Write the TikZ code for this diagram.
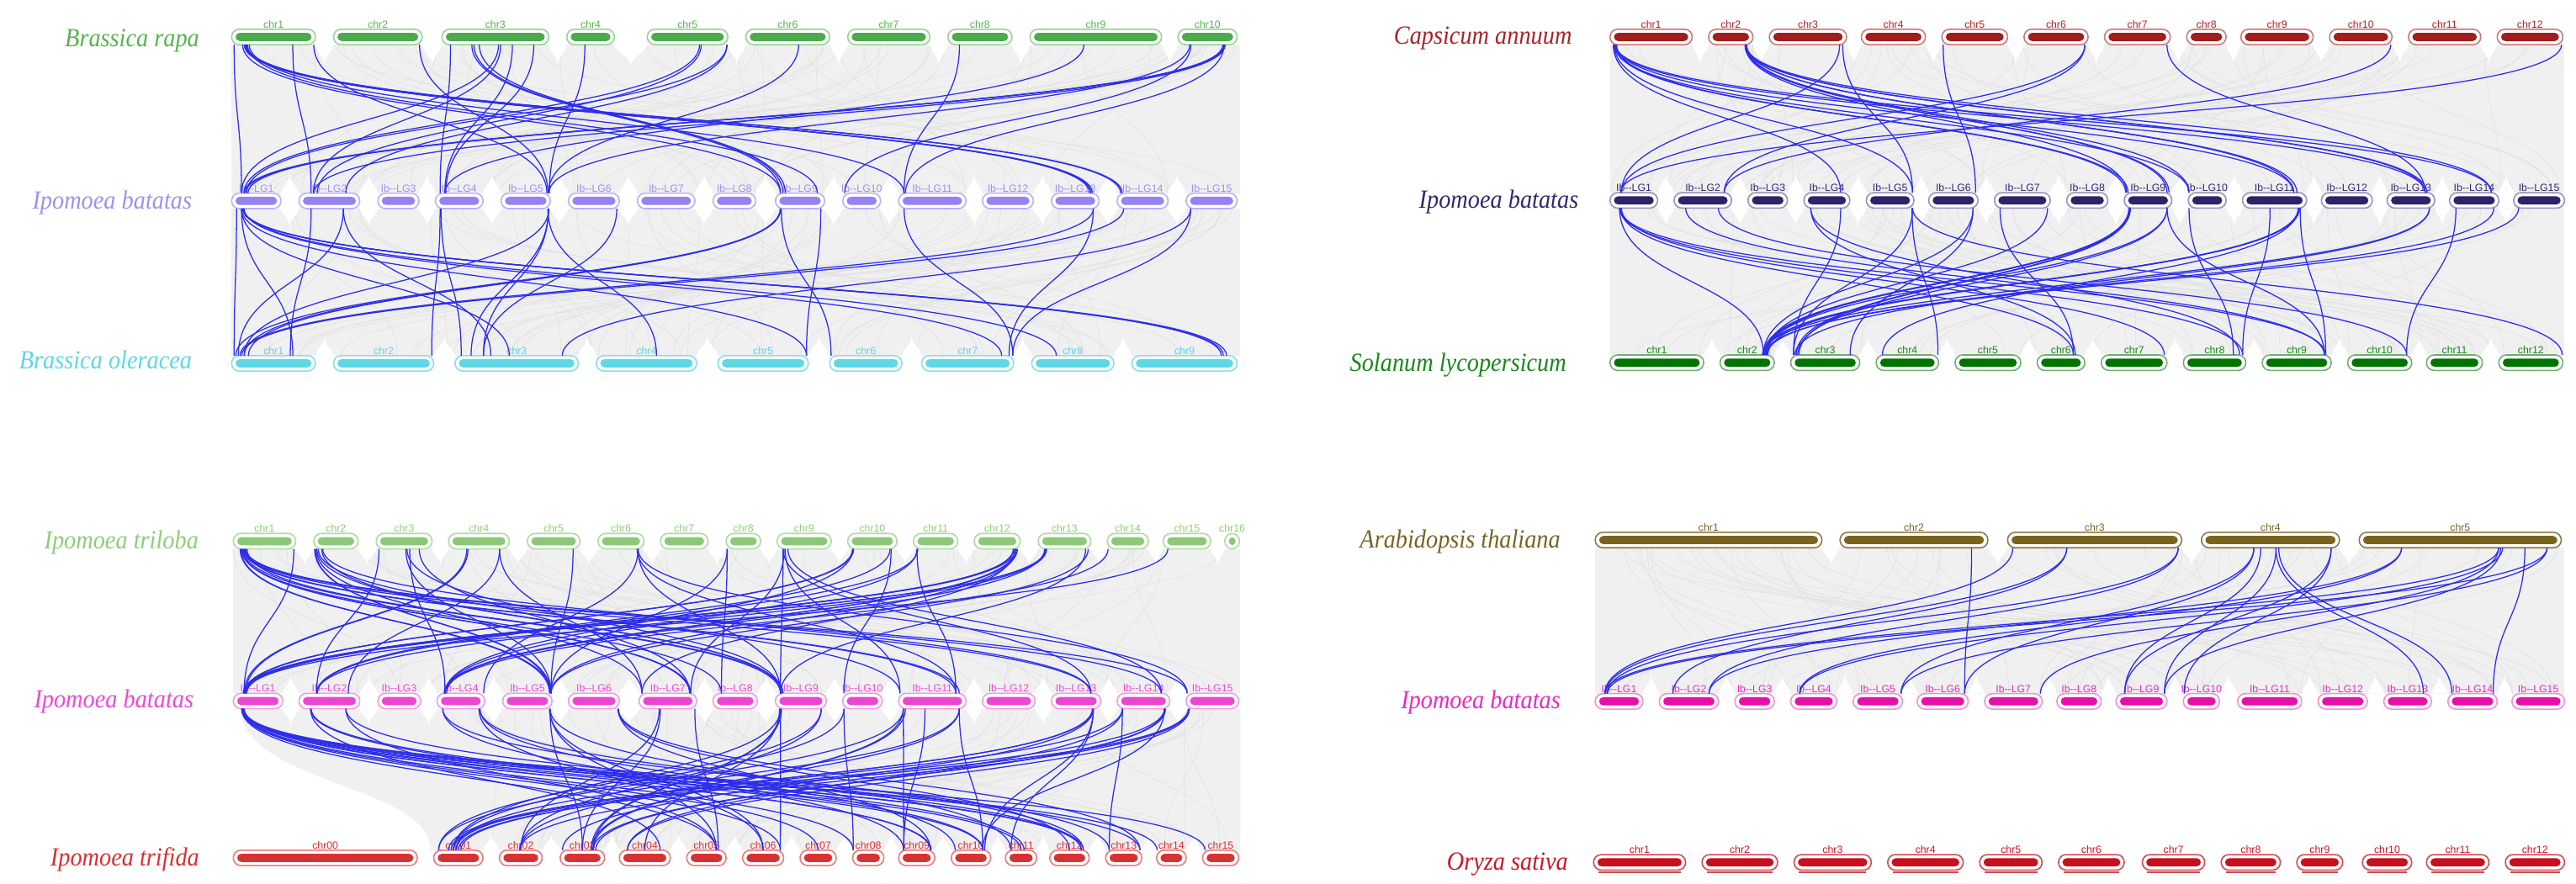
\documentclass[tikz,border=0pt]{standalone}
\usepackage{graphicx}
\usepackage{fontspec}
\newfontfamily\spfont{Liberation Serif}
\newfontfamily\lbfont{Liberation Sans}
\usetikzlibrary{calc}
\pgfdeclarelayer{bg}
\pgfsetlayers{bg,main}
\definecolor{blueL}{RGB}{45,45,235}
\definecolor{bandc}{RGB}{240,240,240}
\definecolor{texc}{RGB}{226,226,226}
% panel A
\definecolor{aro}{RGB}{150,210,150}\definecolor{arf}{RGB}{75,170,75}\definecolor{arl}{RGB}{85,180,75}
\definecolor{amo}{RGB}{185,175,250}\definecolor{amf}{RGB}{150,130,240}\definecolor{aml}{RGB}{155,145,245}
\definecolor{aoo}{RGB}{130,225,235}\definecolor{aof}{RGB}{95,215,228}\definecolor{aol}{RGB}{90,215,230}
% panel B
\definecolor{bco}{RGB}{200,120,120}\definecolor{bcf}{RGB}{160,30,30}\definecolor{bcl}{RGB}{170,35,40}
\definecolor{bmo}{RGB}{150,145,185}\definecolor{bmf}{RGB}{45,35,105}\definecolor{bml}{RGB}{50,40,110}
\definecolor{bso}{RGB}{110,175,110}\definecolor{bsf}{RGB}{0,115,0}\definecolor{bsl}{RGB}{25,135,25}
% panel C
\definecolor{cto}{RGB}{170,220,160}\definecolor{ctf}{RGB}{140,200,120}\definecolor{ctl}{RGB}{140,205,120}
\definecolor{cmo}{RGB}{245,150,230}\definecolor{cmf}{RGB}{235,70,210}\definecolor{cml}{RGB}{240,70,215}
\definecolor{cfo}{RGB}{235,120,120}\definecolor{cff}{RGB}{215,50,50}\definecolor{cfl}{RGB}{220,45,50}
% panel D
\definecolor{dao}{RGB}{140,120,70}\definecolor{daf}{RGB}{120,100,30}\definecolor{dal}{RGB}{120,100,35}
\definecolor{dmo}{RGB}{245,140,215}\definecolor{dmf}{RGB}{230,15,170}\definecolor{dml}{RGB}{235,40,195}
\definecolor{dzo}{RGB}{215,70,80}\definecolor{dzf}{RGB}{200,15,30}\definecolor{dzl}{RGB}{205,20,40}

\tikzset{
 chrom/.style 2 args={draw=#1, fill=white, line width=0.8pt, rounded corners=4.6pt,
   minimum height=9.4pt, inner sep=0pt, outer sep=0pt,
   path picture={\fill[#2, rounded corners=2.5pt]
     ([shift={(2.4pt,2.2pt)}]path picture bounding box.south west) rectangle
     ([shift={(-2.4pt,-2.2pt)}]path picture bounding box.north east);}},
 clab/.style={font=\lbfont\fontsize{6.3}{6.3}\selectfont, inner sep=0.4pt},
 sp/.style={font=\spfont\itshape\fontsize{14.5}{16}\selectfont, anchor=base east, inner sep=0pt},
 blk/.style={draw=blueL, line width=0.65pt},
 bandg/.style={fill=bandc},
 texg/.style={draw=texc, line width=0.35pt},
}
\newcommand\spt[1]{\scalebox{1}[1.1]{#1}}

\newcommand\chrrow[6]{%
 \foreach \xa/\xb/\nm [count=\i from #5] in {#6} {
  \node[#3, minimum width={(\xb-\xa)*1pt}, label={[clab, text=#4]above:\nm}] (#1\i) at ({(\xa+\xb)/2},#2) {};
 }}
\newcommand\synlink[4]{%
 \path ($(#1.south west)!#2!(#1.south east)$) coordinate (la)
       ($(#3.north west)!#4!(#3.north east)$) coordinate (lb);
 \path ($(la)!.5!(lb)$) coordinate (lm);
 \draw[blk] (la) .. controls (la |- lm) and (lb |- lm) .. (lb);}
\newcommand\links[1]{\foreach \p/\q/\r/\s in {#1} {\synlink{\p}{\q}{\r}{\s}}}
\newcommand\gapnotch[4]{%
 \path (#1.#3 east) coordinate (na) (#2.#3 west) coordinate (nb);
 \path ($(na)!.5!(nb)$) coordinate (nm);
 \fill[white] (na) .. controls ($(na)+(1,0.4*#4)$) and ($(nm)+(0,0.55*#4)$) .. ($(nm)+(0,#4)$)
   .. controls ($(nm)+(0,0.55*#4)$) and ($(nb)+(-1,0.4*#4)$) .. (nb) -- cycle;}
\newcommand\notchrow[5]{% prefix, last gap index, side, depth, first
 \foreach \i in {#5,...,#2} {\pgfmathtruncatemacro\j{\i+1}\gapnotch{#1\i}{#1\j}{#3}{#4}}}
\newcommand\bandtex[5]{%
 \foreach \k in {1,...,#5}{
  \pgfmathsetmacro\ta{#1+rnd*(#2-#1)}
  \pgfmathsetmacro\tb{#1+rnd*(#2-#1)}
  \draw[texg] (\ta,#3) .. controls (\ta,{(#3+#4)/2}) and (\tb,{(#3+#4)/2}) .. (\tb,#4);
 }}

\begin{document}
\begin{tikzpicture}[x=1pt,y=-1pt]
\useasboundingbox (0,0) rectangle (1568,538);
\pgfmathsetseed{12345}

% ---------------- Panel A ----------------
\chrrow{ar}{22.5}{chrom={aro}{arf}}{arl}{1}{141/192/chr1,203/257/chr2,269/334/chr3,345/374/chr4,394/443/chr5,454/505/chr6,516/566/chr7,577/616/chr8,627/707/chr9,717/753/chr10}
\chrrow{am}{122.3}{chrom={amo}{amf}}{aml}{1}{141/171/Ib--LG1,182/219/Ib--LG2,230/255/Ib--LG3,265/294/Ib--LG4,305/335/Ib--LG5,346/377/Ib--LG6,388/423/Ib--LG7,434/460/Ib--LG8,472/502/Ib--LG9,513/536/Ib--LG10,547/588/Ib--LG11,598/629/Ib--LG12,640/669/Ib--LG13,680/711/Ib--LG14,722/753/Ib--LG15}
\chrrow{ao}{221.2}{chrom={aoo}{aof}}{aol}{1}{141/192/chr1,203/264/chr2,277/352/chr3,363/424/chr4,437/492/chr5,505/549/chr6,561/617/chr7,628/678/chr8,689/753/chr9}
\node[sp, text=arl] (spA1) at (121.5,28.6) {\spt{Brassica rapa}};
\node[sp, text=aml] (spA2) at (117,127.2) {\spt{Ipomoea batatas}};
\node[sp, text=aol] (spA3) at (117,224.6) {\spt{Brassica oleracea}};

% ---------------- Panel B ----------------
\chrrow{bc}{22.5}{chrom={bco}{bcf}}{bcl}{1}{980/1030/chr1,1040/1067/chr2,1077/1124/chr3,1133/1172/chr4,1182/1222/chr5,1232/1271/chr6,1281/1321/chr7,1331/1355/chr8,1364/1408/chr9,1418/1456/chr10,1466/1510/chr11,1520/1560/chr12}
\chrrow{bm}{122}{chrom={bmo}{bmf}}{bml}{1}{980/1009/Ib--LG1,1019/1054/Ib--LG2,1064/1088/Ib--LG3,1098/1126/Ib--LG4,1136/1165/Ib--LG5,1174/1204/Ib--LG6,1214/1248/Ib--LG7,1258/1283/Ib--LG8,1293/1322/Ib--LG9,1332/1355/Ib--LG10,1365/1404/Ib--LG11,1413/1444/Ib--LG12,1453/1482/Ib--LG13,1491/1521/Ib--LG14,1530/1561/Ib--LG15}
\chrrow{bs}{220.8}{chrom={bso}{bsf}}{bsl}{1}{980/1037/chr1,1047/1080/chr2,1090/1132/chr3,1142/1180/chr4,1190/1230/chr5,1240/1269/chr6,1279/1319/chr7,1329/1367/chr8,1377/1419/chr9,1429/1468/chr10,1477/1511/chr11,1521/1560/chr12}
\node[sp, text=bcl] (spB1) at (957,26.8) {\spt{Capsicum annuum}};
\node[sp, text=bml] (spB2) at (961,126.6) {\spt{Ipomoea batatas}};
\node[sp, text=bsl] (spB3) at (953.6,226) {\spt{Solanum lycopersicum}};

% ---------------- Panel C ----------------
\chrrow{ct}{329.5}{chrom={cto}{ctf}}{ctl}{1}{142/180/chr1,191/218/chr2,229/263/chr3,273/310/chr4,321/353/chr5,364/392/chr6,402/431/chr7,442/463/chr8,473/506/chr9,516/546/chr10,556/583/chr11,593/621/chr12,632/664/chr13,674/699/chr14,708/737/chr15,745.5/754.5/chr16}
\chrrow{cm}{426.8}{chrom={cmo}{cmf}}{cml}{1}{142/172/Ib--LG1,182/219/Ib--LG2,230/256/Ib--LG3,266/295/Ib--LG4,306/336/Ib--LG5,346/377/Ib--LG6,389/424/Ib--LG7,434/461/Ib--LG8,472/503/Ib--LG9,513/537/Ib--LG10,547/588/Ib--LG11,598/630/Ib--LG12,640/670/Ib--LG13,680/712/Ib--LG14,722/754/Ib--LG15}
\chrrow{cf}{522.3}{chrom={cfo}{cff}}{cfl}{0}{142/254/chr00,264/294/chr01,304/330/chr02,341/368/chr03,377/408/chr04,418/442/chr05,452/477/chr06,487/509/chr07,519/538/chr08,547/569/chr09,579/603/chr10,612/631/chr11,639/663/chr12,673/695/chr13,704/722/chr14,732/754/chr15}
\node[sp, text=ctl] (spC1) at (121,334.2) {\spt{Ipomoea triloba}};
\node[sp, text=cml] (spC2) at (118,430.7) {\spt{Ipomoea batatas}};
\node[sp, text=cfl] (spC3) at (121.5,527.2) {\spt{Ipomoea trifida}};

% ---------------- Panel D ----------------
\chrrow{da}{328.8}{chrom={dao}{daf}}{dal}{1}{971/1109/chr1,1120/1210/chr2,1222/1328/chr3,1340/1424/chr4,1436/1559/chr5}
\chrrow{dm}{427}{chrom={dmo}{dmf}}{dml}{1}{971/1000/Ib--LG1,1010/1046/Ib--LG2,1056/1080/Ib--LG3,1090/1118/Ib--LG4,1128/1158/Ib--LG5,1167/1198/Ib--LG6,1208/1243/Ib--LG7,1252/1279/Ib--LG8,1288/1319/Ib--LG9,1329/1351/Ib--LG10,1362/1401/Ib--LG11,1411/1441/Ib--LG12,1451/1480/Ib--LG13,1490/1520/Ib--LG14,1529/1561/Ib--LG15}
\chrrow{dz}{525}{chrom={dzo}{dzf}}{dzl}{1}{970/1026/chr1,1036/1082/chr2,1092/1139/chr3,1149/1195/chr4,1205/1243/chr5,1253/1293/chr6,1304/1342/chr7,1352/1388/chr8,1398/1426/chr9,1438/1468/chr10,1477/1515/chr11,1525/1561/chr12}
\foreach \i in {1,...,12}{\draw[dzo, line width=0.7pt] ([xshift=3pt,yshift=-1.4pt]dz\i.south west) -- ([xshift=-3pt,yshift=-1.4pt]dz\i.south east);}
\node[sp, text=dal] (spD1) at (950,333.4) {\spt{Arabidopsis thaliana}};
\node[sp, text=dml] (spD2) at (950,431.6) {\spt{Ipomoea batatas}};
\node[sp, text=dzl] (spD3) at (954.6,529.8) {\spt{Oryza sativa}};

% ---------------- grey background bands ----------------
\begin{pgfonlayer}{bg}
 \fill[bandg] (141,27.3) rectangle (755,117.6);
 \fill[bandg] (141,127) rectangle (755,216.5);
 \fill[bandg] (980,27.3) rectangle (1561,117.3);
 \fill[bandg] (980,126.7) rectangle (1561,216);
 \fill[bandg] (142,334.3) rectangle (755,422);
 \fill[bandg] (146,431.5) -- (755,431.5) -- (755,517.5) -- (262,517.5) .. controls (262,478) and (150,478) .. (146,431.5) -- cycle;
 \fill[bandg] (971,333.6) rectangle (1561,422.3);
 \bandtex{141}{755}{27.3}{117.6}{60}
 \bandtex{141}{755}{127}{216.5}{60}
 \bandtex{980}{1561}{27.3}{117.3}{60}
 \bandtex{980}{1561}{126.7}{216}{60}
 \bandtex{142}{755}{334.3}{422}{60}
 \bandtex{262}{755}{431.5}{517.5}{50}
 \bandtex{971}{1561}{333.6}{422.3}{60}
 \notchrow{ar}{9}{south}{13}{1}
 \notchrow{am}{14}{north}{-12}{1}
 \notchrow{am}{14}{south}{11}{1}
 \notchrow{ao}{8}{north}{-12}{1}
 \notchrow{bc}{11}{south}{12}{1}
 \notchrow{bm}{14}{north}{-12}{1}
 \notchrow{bm}{14}{south}{11}{1}
 \notchrow{bs}{11}{north}{-11}{1}
 \notchrow{ct}{15}{south}{10}{1}
 \notchrow{cm}{14}{north}{-11}{1}
 \notchrow{cm}{14}{south}{10}{1}
 \notchrow{cf}{14}{north}{-10}{1}
 \notchrow{da}{4}{south}{11}{1}
 \notchrow{dm}{14}{north}{-12}{1}
\end{pgfonlayer}

% ---------------- blue syntenic links ----------------
\links{ar1/.03/am1/.2, ar1/.73/am2/.2, ar1/.15/am13/.8, ar1/.17/am14/.07, ar1/.19/am9/.85, ar1/.21/am11/.08, ar1/.13/am9/.1, ar1/.98/am5/.93, ar2/.97/am5/.95, ar3/.08/am4/.1, ar3/.28/am9/.1, ar3/.35/am9/.15, ar3/.53/am1/.2, ar3/.55/am2/.24, ar3/.66/am4/.2, ar3/.86/am4/.22, ar4/.38/am5/.98, ar5/.65/am1/.25, ar5/.67/am2/.3, ar5/.99/am1/.3, ar5/.99/am2/.77, ar6/.63/am5/.96, ar8/.18/am11/.08, ar9/.41/am4/.2, ar10/.2/am5/.97, ar10/.22/am10/.05, ar10/.78/am1/.25, ar10/.8/am2/.24, ar10/.76/am1/.28, ar10/.78/am11/.1, ar1/.16/am13/.83, ar1/.18/am14/.1, ar1/.17/am13/.86, ar10/.79/am1/.33, ar3/.3/am9/.2}
\links{am1/.1/ao1/.03, am1/.2/ao1/.73, am2/.2/ao1/.7, am1/.2/ao3/.44, am1/.22/ao9/.87, am1/.24/ao9/.85, am1/.25/ao7/.87, am1/.2/ao5/.98, am2/.73/ao3/.29, am4/.1/ao2/.98, am4/.12/ao3/.05, am5/.96/ao3/.13, am5/.96/ao3/.23, am5/.95/ao4/.6, am5/.97/ao1/.15, am6/.95/ao3/.23, am9/.1/ao1/.05, am9/.1/ao1/.15, am9/.12/ao6/.02, am9/.92/ao5/.98, am11/.08/ao7/.99, am13/.88/ao7/.95, am13/.88/ao1/.1, am14/.13/ao1/.12, am15/.09/ao7/.99, am15/.09/ao3/.87, am2/.73/ao1/.08, am1/.23/ao9/.9, am1/.25/ao8/.3, am9/.11/ao1/.2}
\links{bc1/.04/bm4/.8, bc1/.05/bm5/.97, bc1/.06/bm9/.03, bc1/.07/bm11/.8, bc1/.05/bm10/.02, bc1/.06/bm13/.8, bc1/.07/bm14/.85, bc2/.83/bm9/.94, bc2/.85/bm11/.8, bc2/.83/bm13/.8, bc2/.84/bm14/.85, bc2/.82/bm9/.05, bc2/.84/bm10/.02, bc2/.86/bm9/.9, bc3/.91/bm1/.24, bc3/.95/bm5/.97, bc5/.02/bm6/.95, bc6/.95/bm1/.24, bc6/.95/bm2/.87, bc7/.95/bm13/.8, bc10/.98/bm2/.87, bc12/.98/bm1/.22, bc2/.85/bm11/.85, bc1/.08/bm9/.08, bc2/.85/bm13/.84}
\links{bm1/.2/bs2/.8, bm1/.22/bs6/.76, bm1/.24/bs7/.96, bm1/.2/bs8/.95, bm1/.21/bs9/.92, bm2/.2/bs9/.9, bm2/.77/bs10/.92, bm4/.15/bs6/.8, bm4/.8/bs3/.04, bm4/.15/bs8/.9, bm5/.97/bs3/.04, bm5/.97/bs12/.99, bm5/.96/bs4/.99, bm6/.9/bs3/.86, bm7/.1/bs6/.76, bm7/.95/bs2/.85, bm9/.1/bs2/.8, bm9/.12/bs2/.82, bm9/.9/bs2/.84, bm9/.9/bs3/.1, bm9/.1/bs3/.08, bm10/.02/bs8/.8, bm11/.43/bs8/.95, bm11/.87/bs2/.8, bm11/.87/bs4/.1, bm13/.89/bs2/.78, bm13/.89/bs3/.06, bm14/.13/bs10/.92, bm14/.9/bs2/.86, bm15/.1/bs2/.83, bm6/.9/bs2/.8, bm11/.9/bs9/.92, bm9/.9/bs9/.9, bm9/.12/bs2/.84, bm11/.88/bs2/.82, bm9/.11/bs2/.86, bm9/.13/bs3/.12, bm11/.89/bs2/.88}
\links{ct1/.12/cm5/.98, ct1/.14/cm7/.88, ct1/.15/cm9/.1, ct1/.16/cm11/.85, ct1/.17/cm13/.8, ct1/.18/cm14/.84, ct1/.2/cm15/.02, ct1/.13/cm8/.19, ct1/.19/cm11/.9, ct1/.97/cm1/.22, ct2/.02/cm5/.98, ct2/.05/cm7/.05, ct2/.18/cm9/.1, ct2/.1/cm11/.02, ct2/.2/cm13/.8, ct3/.05/cm2/.29, ct3/.53/cm5/.98, ct3/.77/cm7/.88, ct3/.6/cm4/.17, ct4/.3/cm1/.22, ct4/.84/cm2/.81, ct5/.87/cm5/.98, ct6/.87/cm4/.98, ct6/.87/cm9/.1, ct8/.03/cm5/.98, ct8/.03/cm8/.19, ct9/.11/cm9/.1, ct9/.15/cm11/.02, ct9/.2/cm14/.84, ct10/.1/cm1/.22, ct10/.1/cm4/.17, ct10/.86/cm2/.29, ct10/.88/cm10/.03, ct11/.08/cm4/.17, ct11/.08/cm11/.85, ct12/.85/cm1/.22, ct12/.9/cm1/.25, ct12/.94/cm4/.17, ct12/.92/cm5/.98, ct12/.88/cm7/.05, ct13/.14/cm1/.24, ct13/.16/cm2/.29, ct13/.95/cm5/.98, ct13/.9/cm9/.1, ct14/.02/cm4/.17, ct15/.1/cm1/.23, ct9/.11/cm13/.8, ct6/.87/cm15/.02, ct4/.84/cm7/.05, ct1/.22/cm9/.15, ct1/.11/cm5/.95, ct1/.14/cm7/.9, ct2/.03/cm5/.96, ct2/.07/cm9/.12, ct10/.12/cm1/.25, ct12/.86/cm1/.2, ct12/.9/cm4/.2, ct13/.15/cm1/.27, ct13/.12/cm4/.15, ct11/.1/cm2/.3, ct9/.13/cm7/.9, ct4/.32/cm1/.25, ct6/.85/cm11/.85, ct3/.55/cm9/.12}
\links{cm1/.17/cf5/.75, cm1/.18/cf6/.92, cm1/.19/cf8/.02, cm1/.2/cf9/.88, cm1/.21/cf10/.8, cm1/.18/cf12/.8, cm1/.19/cf13/.95, cm1/.2/cf14/.02, cm1/.17/cf15/.07, cm2/.19/cf4/.8, cm2/.19/cf10/.8, cm2/.77/cf5/.75, cm2/.77/cf12/.8, cm4/.12/cf9/.14, cm4/.12/cf13/.1, cm4/.9/cf10/.1, cm4/.9/cf12/.85, cm5/.96/cf3/.5, cm5/.96/cf5/.75, cm5/.96/cf11/.18, cm6/.98/cf13/.95, cm6/.98/cf9/.88, cm7/.37/cf3/.5, cm7/.97/cf5/.8, cm9/.1/cf1/.4, cm9/.1/cf3/.74, cm9/.1/cf6/.92, cm9/.9/cf1/.1, cm9/.9/cf2/.48, cm10/.03/cf8/.02, cm10/.03/cf1/.4, cm11/.07/cf1/.1, cm11/.07/cf3/.74, cm11/.07/cf9/.14, cm11/.39/cf9/.14, cm11/.9/cf10/.8, cm11/.9/cf2/.48, cm11/.9/cf1/.45, cm13/.85/cf1/.4, cm13/.85/cf3/.05, cm13/.85/cf10/.85, cm13/.85/cf11/.18, cm14/.1/cf1/.3, cm14/.1/cf13/.1, cm14/.1/cf4/.16, cm14/.9/cf1/.35, cm14/.9/cf3/.74, cm14/.9/cf10/.8, cm15/.06/cf2/.48, cm15/.06/cf4/.16, cm15/.06/cf1/.5, cm1/.18/cf7/.5, cm1/.2/cf11/.5, cm1/.21/cf9/.9, cm1/.22/cf12/.85, cm5/.95/cf6/.5, cm6/.97/cf12/.5, cm9/.12/cf3/.7, cm9/.08/cf4/.5, cm11/.1/cf3/.7, cm13/.83/cf1/.45, cm14/.92/cf3/.8, cm15/.04/cf1/.55, cm2/.2/cf11/.6, cm4/.88/cf6/.5, cm7/.35/cf2/.5}
\links{da2/.89/dm6/.93, da3/.03/dm1/.2, da3/.34/dm1/.22, da3/.34/dm2/.23, da3/.98/dm1/.25, da3/.98/dm2/.84, da4/.38/dm5/.97, da4/.38/dm6/.93, da4/.43/dm9/.17, da4/.54/dm9/.95, da4/.54/dm13/.83, da4/.56/dm14/.08, da4/.94/dm9/.17, da4/.94/dm10/.02, da5/.21/dm4/.19, da5/.21/dm2/.84, da5/.69/dm1/.2, da5/.7/dm9/.95, da5/.69/dm7/.97, da5/.82/dm14/.92, da5/.93/dm1/.25, da5/.93/dm5/.97, da5/.71/dm4/.2}
\end{tikzpicture}
\end{document}
